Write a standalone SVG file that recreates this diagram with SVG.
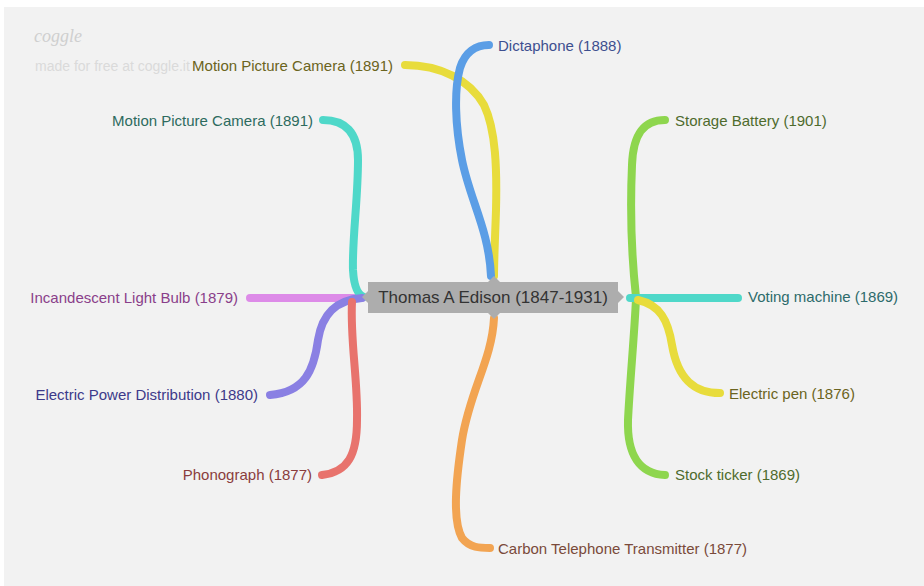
<svg xmlns="http://www.w3.org/2000/svg" width="924" height="586" viewBox="0 0 924 586">
<style>
.br{fill:none;stroke-width:8;stroke-linecap:round;stroke-linejoin:round}
.lb{font-family:"Liberation Sans",Arial,sans-serif;font-size:15px}
.r{text-anchor:end}
</style>
<rect x="0" y="0" width="924" height="586" fill="#ffffff"/>
<rect x="4" y="7" width="920" height="579" fill="#f2f2f2"/>
<g id="watermark">
<text x="34" y="42" font-family="'Liberation Serif',serif" font-style="italic" font-size="18" fill="#cfcfcf">coggle</text>
<text x="35" y="71" font-family="'Liberation Sans',Arial,sans-serif" font-size="14" fill="#dadada">made for free at coggle.it</text>
</g>
<g id="connectors">
<path class="br" stroke="#e8dc3c" d="M 405 65 C 440 65, 470 80, 484 105 C 496 130, 497 170, 496 210 C 495 240, 494 260, 494 276"/>
<path class="br" stroke="#5b9ee6" d="M 491 276 C 489 230, 470 200, 462 160 C 455 125, 454 90, 460 68 C 465 52, 476 45, 489 45"/>
<path class="br" stroke="#dd8be8" d="M 250 298 L 360 298"/>
<path class="br" stroke="#4fd8c9" d="M 323 120 C 345 120, 358 132, 358 160 C 358 200, 352 240, 353 270 C 354 288, 358 295, 364 297"/>
<path class="br" stroke="#8a80e3" d="M 362 298 C 335 300, 322 315, 318 340 C 314 370, 305 392, 270 395"/>
<path class="br" stroke="#e8736d" d="M 352 302 C 350 340, 358 380, 357 420 C 357 455, 348 472, 322 475"/>
<path class="br" stroke="#f2a452" d="M 494 318 C 492 360, 470 390, 462 440 C 456 480, 452 520, 462 538 C 470 548, 480 548, 490 548"/>
<path class="br" stroke="#8ed64e" d="M 665 120 C 643 120, 633 135, 632 165 C 630 210, 632 260, 636 297"/>
<path class="br" stroke="#8ed64e" d="M 636 299 C 634 340, 630 380, 628 420 C 627 455, 640 474, 665 475"/>
<path class="br" stroke="#4fd8c9" d="M 630 298 L 738 298"/>
<path class="br" stroke="#e8dc3c" d="M 638 300 C 660 305, 668 320, 672 345 C 678 380, 695 393, 720 393"/>
</g>
<g id="center">
<rect x="368" y="282" width="250" height="31" fill="#adadad"/>
<polygon points="488,282 494,276 500,282" fill="#adadad"/>
<polygon points="488,313 494,319 500,313" fill="#adadad"/>
<polygon points="368,291 362,297 368,303" fill="#adadad"/>
<polygon points="618,291 624,297 618,303" fill="#adadad"/>
<text x="493" y="303" text-anchor="middle" font-family="'Liberation Sans',Arial,sans-serif" font-size="17" fill="#333333">Thomas A Edison (1847-1931)</text>
</g>
<g id="n-dictaphone"><text class="lb" x="498" y="51" fill="#3d4f8f">Dictaphone (1888)</text></g>
<g id="n-motion1"><text class="lb r" x="393" y="71" fill="#6b6420">Motion Picture Camera (1891)</text></g>
<g id="n-motion2"><text class="lb r" x="313" y="126" fill="#2d6b5e">Motion Picture Camera (1891)</text></g>
<g id="n-bulb"><text class="lb r" x="238" y="303" fill="#8a3f8a">Incandescent Light Bulb (1879)</text></g>
<g id="n-power"><text class="lb r" x="258" y="400" fill="#3d3a8a">Electric Power Distribution (1880)</text></g>
<g id="n-phonograph"><text class="lb r" x="312" y="480" fill="#8a3d3d">Phonograph (1877)</text></g>
<g id="n-carbon"><text class="lb" x="498" y="554" fill="#7a4a3a">Carbon Telephone Transmitter (1877)</text></g>
<g id="n-battery"><text class="lb" x="675" y="126" fill="#4e6b2d">Storage Battery (1901)</text></g>
<g id="n-voting"><text class="lb" x="748" y="302" fill="#2d6b6b">Voting machine (1869)</text></g>
<g id="n-pen"><text class="lb" x="729" y="399" fill="#6b6420">Electric pen (1876)</text></g>
<g id="n-ticker"><text class="lb" x="675" y="480" fill="#4e6b2d">Stock ticker (1869)</text></g>
</svg>
